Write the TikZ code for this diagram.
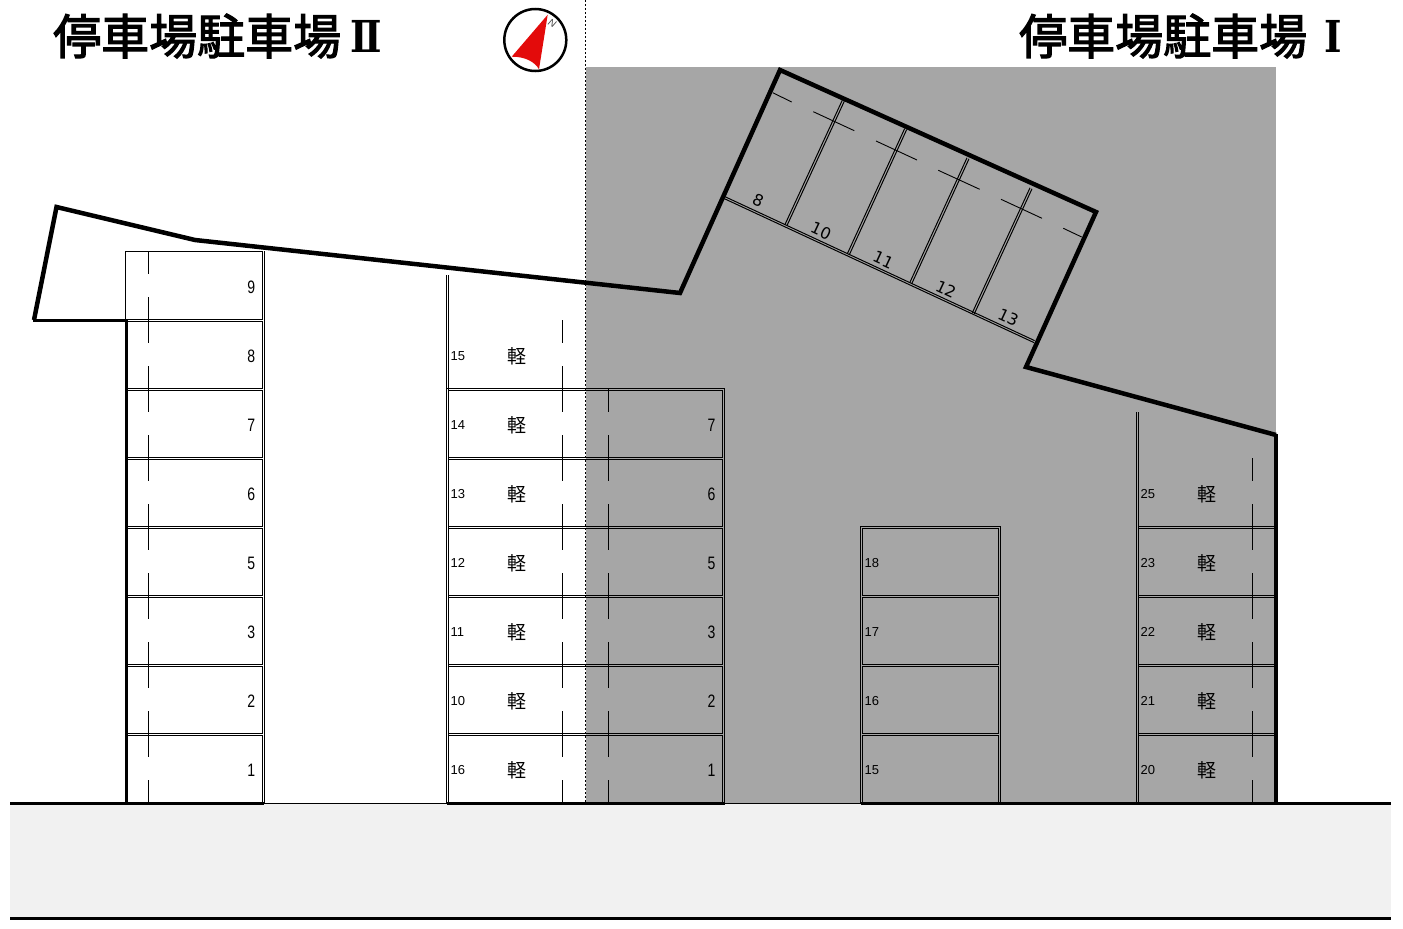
\documentclass[tikz,border=0pt]{standalone}
\usepackage{fontspec}
\setmainfont{Liberation Sans}
\newfontfamily\cjk{Noto Sans CJK JP}
\newfontfamily\headfont[FakeBold=2.4]{Noto Sans CJK JP}
\newfontfamily\romanfont[FakeStretch=0.85]{DejaVu Serif}
\newfontfamily\numfont[FakeStretch=0.78]{Liberation Sans}
\newfontfamily\tiltfont{DejaVu Sans}
\usepackage{tikz}
\definecolor{lotgray}{HTML}{A6A6A6}
\definecolor{roadgray}{HTML}{F1F1F1}
\definecolor{needlered}{HTML}{E30B0B}
\tikzset{
  wall/.style={line width=4.5pt, line join=miter},
  road/.style={line width=3pt},
  park/.style={line width=1pt},
  stopmark/.style={line width=0.9pt, dash pattern=on 23pt off 23pt},
  tilted/.style={line width=0.9pt},
  bignum/.style={font=\numfont\fontsize{18}{18}\selectfont, inner sep=0pt},
  smallnum/.style={font=\fontsize{13}{13}\selectfont, inner sep=0pt, anchor=west},
  kei/.style={font=\cjk\fontsize{19}{19}\selectfont, inner sep=0pt},
  tiltnum/.style={font=\tiltfont\fontsize{16}{16}\selectfont, inner sep=0pt, rotate=-25},
  heading/.style={font=\headfont\fontsize{48}{48}\selectfont, inner sep=0pt},
  romanmark/.style={font=\romanfont\bfseries\fontsize{44}{44}\selectfont, inner sep=0pt},
}
\begin{document}
\begin{tikzpicture}[x=1pt,y=-1pt]
  \useasboundingbox (0,0) rectangle (1403,929);

  % Ground areas
  \fill[lotgray] (586,67) rectangle (1276,803);
  \fill[roadgray] (10,803) rectangle (1391,918);
  \draw[line width=0.8pt, dash pattern=on 2pt off 2pt] (585.5,0) -- (585.5,803);

  % Road edges
  \draw[road] (10,803.3) -- (264,803.3);
  \draw[park] (264,803.3) -- (447,803.3);
  \draw[road] (447,803.3) -- (724.5,803.3);
  \draw[park] (724.5,803.3) -- (861,803.3);
  \draw[road] (861,803.3) -- (1391,803.3);
  \draw[road] (10,918.3) -- (1391,918.3);

  % Stalls, left row
  \draw[park] (125.5,251.3) rectangle (262.3,319.3);
  \draw[park] (264.3,251.3) -- (264.3,803);
  \foreach \y in {320.3,389.3,...,735}
    \draw[park] (127,\y+1) rectangle (262.3,\y+68);

  % Stalls, middle row
  \draw[park] (446.7,275) -- (446.7,803);
  \draw[park] (448.4,275) -- (448.4,803);
  \draw[park] (446.7,388.3) -- (724.7,388.3) -- (724.7,803);
  \foreach \y in {389.3,458.3,...,735}
    \draw[park] (448.4,\y+1) rectangle (722.7,\y+68);

  % Stalls, island
  \draw[park] (860.3,526.3) rectangle (1000.7,803);
  \foreach \y in {527.3,596.3,...,735}
    \draw[park] (862.3,\y+1) rectangle (998.7,\y+68);

  % Stalls, right row
  \draw[park] (1136.3,412) -- (1136.3,803);
  \draw[park] (1138,412) -- (1138,803);
  \draw[park] (1138,526.3) -- (1275,526.3);
  \foreach \y in {527.3,596.3,...,735}
    \draw[park] (1138,\y+1) -- (1275,\y+1) (1138,\y+68) -- (1275,\y+68);

  % Wheel stops
  \draw[stopmark] (148.3,251) -- (148.3,320);
  \foreach \y in {320,389,...,735} {
    \draw[stopmark] (148.3,\y) -- (148.3,\y+69);
    \draw[stopmark] (562.3,\y) -- (562.3,\y+69);
  }
  \foreach \y in {389,458,...,735}
    \draw[stopmark] (608.3,\y) -- (608.3,\y+69);
  \foreach \y in {458,527,...,735}
    \draw[stopmark] (1252.3,\y) -- (1252.3,\y+69);

  % Tilted block
  \draw[park] (725,196.7) -- (1034.6,340.6);
  \draw[park] (724.4,198.7) -- (1034,342.6);
  \foreach \xa/\ya/\xb/\yb in {786/225/843.3/100.7, 848.3/254.3/905.7/129, 910.7/283.3/968/158.3, 973.3/313.3/1031/188.3} {
    \draw[park] (\xa-1,\ya-0.5) -- (\xb-1,\yb-0.5);
    \draw[park] (\xa+1,\ya+0.5) -- (\xb+1,\yb+0.5);
  }
  \foreach \xa/\ya/\xb/\yb in {772.7/92.7/791.7/102, 813.3/111.7/854.3/130.7, 876/141/917/160, 938.3/170.3/979.7/189.3, 1001/199.3/1042/218.3, 1063.3/228.3/1081.7/237}
    \draw[tilted] (\xa,\ya) -- (\xb,\yb);

  % Walls
  \draw[wall] (1276,435) -- (1026,367) -- (1096,212) -- (780,70) -- (680,293) -- (195,240) -- (56.5,207) -- (34,320);
  \draw[line width=3.5pt] (32.5,320.3) -- (126,320.3);
  \draw[line width=3.5pt] (126.3,319) -- (126.3,803);
  \draw[line width=3.5pt] (1275.8,434) -- (1275.8,803);

  % Stall numbers
  \foreach \lab/\y in {9/287,8/356,7/425,6/494,5/563,3/632,2/701,1/770}
    \node[bignum, anchor=east] (left\lab) at (255.5,\y) {\lab};
  \foreach \lab/\y in {15/356,14/425,13/494,12/563,11/632,10/701,16/770} {
    \node[smallnum] (mid\lab) at (450.5,\y) {\lab};
    \node[kei] (midkei\lab) at (516.5,\y) {軽};
  }
  \foreach \lab/\y in {7/425,6/494,5/563,3/632,2/701,1/770}
    \node[bignum, anchor=east] (back\lab) at (715.5,\y) {\lab};
  \foreach \lab/\y in {18/563,17/632,16/701,15/770}
    \node[smallnum] (isle\lab) at (864.5,\y) {\lab};
  \foreach \lab/\y in {25/494,23/563,22/632,21/701,20/770} {
    \node[smallnum] (right\lab) at (1140.5,\y) {\lab};
    \node[kei] (rightkei\lab) at (1206.5,\y) {軽};
  }
  \foreach \lab/\x/\y in {8/758.3/200.7,10/821/231,11/883.3/260,12/946/289.3,13/1008.3/317.7}
    \node[tiltnum] (tilt\lab) at (\x,\y) {\lab};

  % Headings
  \node[heading, anchor=west] (titleB) at (53,36) {停車場駐車場};
  \node[romanmark] (numB) at (366,36) {Ⅱ};
  \node[heading, anchor=west] (titleA) at (1019,36) {停車場駐車場};
  \node[romanmark] (numA) at (1333,36) {Ⅰ};

  % Compass
  \node[circle, draw, line width=2.5pt, minimum size=62pt, inner sep=0pt] (compass) at (535.3,40) {};
  \fill[needlered] (547.7,14.7) -- (511.7,56.7) .. controls (525,56.5) and (535,62) .. (539,69.3) -- cycle;
  \node[font=\itshape\fontsize{10}{10}\selectfont, inner sep=0pt, rotate=-30, text=black!75] (north) at (552.3,23.7) {N};
\end{tikzpicture}
\end{document}
